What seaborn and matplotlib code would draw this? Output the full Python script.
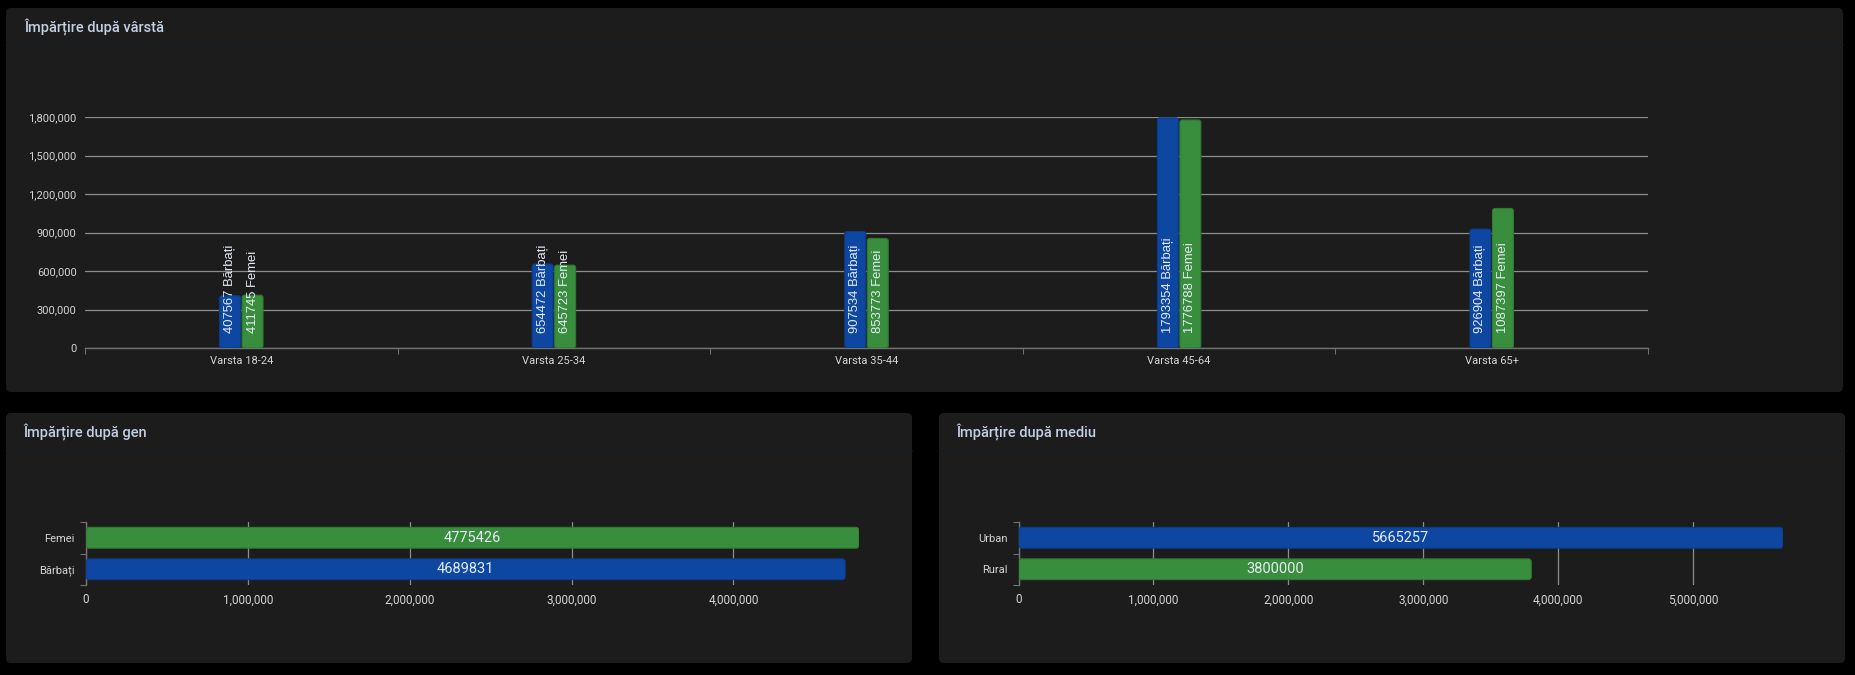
import matplotlib
matplotlib.use("Agg")
import matplotlib.pyplot as plt
from matplotlib.patches import FancyBboxPatch
from matplotlib.ticker import FuncFormatter, FixedLocator
import seaborn as sns
import pandas as pd

# ---------------- data ----------------
age_groups = ["Varsta 18-24", "Varsta 25-34", "Varsta 35-44", "Varsta 45-64", "Varsta 65+"]
men_values = [407567, 654472, 907534, 1793354, 926904]
women_values = [411745, 645723, 853773, 1776788, 1087397]
sex_names = ["Bărbați", "Femei"]

gender_labels = ["Femei", "Bărbați"]
gender_values = [4775426, 4689831]

area_labels = ["Urban", "Rural"]
area_values = [5665257, 3800000]

titles = ["Împărțire după vârstă", "Împărțire după gen", "Împărțire după mediu"]
age_yticks = [0, 300000, 600000, 900000, 1200000, 1500000, 1800000]

# ---------------- style ----------------
BLUE = "#0d47a1"
GREEN = "#388e3c"
CARD = "#1c1c1c"
BG = "#000000"
GRID = "#8c8c8c"
TICK_TXT = "#d4d4d4"
LABEL_TXT = "#e6ebf5"
TITLE_TXT = "#c3cfe2"
LABEL_FONT = ["Liberation Sans", "DejaVu Sans"]

sns.set_theme(style="dark")
plt.rcParams["font.family"] = ["Roboto", "DejaVu Sans"]

W, H = 1855, 675
fig = plt.figure(figsize=(W / 100, H / 100), dpi=100, facecolor=BG)


def card(x0, y0, x1, y1):
    p = FancyBboxPatch((x0 / 100, (H - y1) / 100), (x1 - x0) / 100, (y1 - y0) / 100,
                       boxstyle="round,pad=0,rounding_size=0.05",
                       transform=fig.dpi_scale_trans, fc=CARD, ec="none", zorder=-2)
    fig.patches.append(p)
    return p


def sep_line(x0, x1, y):
    fig.add_artist(plt.Line2D([x0 / W, x1 / W], [1 - y / H, 1 - y / H],
                              color="#171d22", lw=1.2, zorder=-1))


def add_axes(x0, y0, x1, y1):
    ax = fig.add_axes([x0 / W, 1 - y1 / H, (x1 - x0) / W, (y1 - y0) / H])
    ax.set_facecolor("none")
    return ax


def round_bars(ax, ax_px, r_px=3.0):
    x0, y0, x1, y1 = ax_px
    xl = ax.get_xlim()
    yl = ax.get_ylim()
    ux = abs(xl[1] - xl[0]) / (x1 - x0)
    uy = abs(yl[1] - yl[0]) / (y1 - y0)
    rx = r_px * ux
    ry = r_px * uy
    for cont in ax.containers:
        for p in cont:
            x, y, w, h = p.get_x(), p.get_y(), p.get_width(), p.get_height()
            if h < 0:
                y, h = y + h, -h
            if w < 0:
                x, w = x + w, -w
            fc = p.get_facecolor()
            ec = tuple(max(0, c * 0.85) for c in fc[:3]) + (1,)
            nb = FancyBboxPatch((x, y), w, h,
                                boxstyle=f"round,pad=0,rounding_size={rx}",
                                mutation_aspect=ry / rx,
                                fc=fc, ec=ec, lw=0.8,
                                transform=ax.transData, zorder=3)
            p.set_visible(False)
            ax.add_patch(nb)


# ---------------- cards ----------------
card(6, 8, 1843, 392)
card(6, 413, 912, 663)
card(939, 413, 1845, 663)
sep_line(6, 1843, 45)
sep_line(6, 912, 451)
sep_line(939, 1845, 451)

for (tx, ty), t in zip([(24, 27), (23, 432), (956, 432)], titles):
    fig.text(tx / W, 1 - ty / H, t, color=TITLE_TXT, fontsize=10.5,
             fontweight="medium", ha="left", va="center")

comma = FuncFormatter(lambda v, p: f"{int(v):,}")

# ---------------- top: age ----------------
age_df = pd.DataFrame({
    "grup": age_groups * 2,
    "sex": [sex_names[0]] * len(age_groups) + [sex_names[1]] * len(age_groups),
    "val": men_values + women_values,
})
top_px = (85, 117, 1648, 348)
ax1 = add_axes(*top_px)
sns.barplot(data=age_df, x="grup", y="val", hue="sex", hue_order=sex_names,
            order=age_groups, palette=[BLUE, GREEN], width=0.144, gap=0.07,
            errorbar=None, legend=False, ax=ax1, saturation=1)
ax1.set_xlim(-0.5, len(age_groups) - 0.5)
ax1.set_ylim(0, age_yticks[-1])
ax1.set_xlabel("")
ax1.set_ylabel("")
ax1.yaxis.set_major_locator(FixedLocator(age_yticks))
ax1.yaxis.set_major_formatter(comma)
ax1.grid(axis="y", color=GRID, lw=0.9)
ax1.grid(axis="x", visible=False)
ax1.set_axisbelow(True)
for s in ["top", "right", "left"]:
    ax1.spines[s].set_visible(False)
ax1.spines["bottom"].set_color("#707070")
ax1.spines["bottom"].set_linewidth(1.0)
ax1.tick_params(axis="y", length=0, pad=6, labelsize=8, labelcolor=TICK_TXT)
ax1.tick_params(axis="x", which="major", length=0, pad=6, labelsize=8, labelcolor=TICK_TXT)
ax1.set_xticks([i - 0.5 for i in range(len(age_groups) + 1)], minor=True)
ax1.tick_params(axis="x", which="minor", length=4, color="#707070", width=0.8, bottom=True)
round_bars(ax1, top_px, r_px=2.5)
for cont, name in zip(ax1.containers, sex_names):
    for p in cont:
        cx = p.get_x() + p.get_width() / 2
        ax1.annotate(f"{int(p.get_height())} {name}", xy=(cx, 0), xytext=(0, 11),
                     textcoords="offset points", rotation=90, ha="center", va="bottom",
                     color=LABEL_TXT, fontsize=9.4, family=LABEL_FONT, zorder=5)


# ---------------- bottom horizontal charts ----------------
def hbar(px, labels, values, colors):
    ax = add_axes(*px)
    df = pd.DataFrame({"cat": labels, "val": values})
    sns.barplot(data=df, y="cat", x="val", hue="cat", order=labels, hue_order=labels,
                palette=colors, width=0.66, errorbar=None, legend=False, ax=ax,
                saturation=1, orient="h")
    ax.set_ylim(len(labels) - 0.5, -0.5)
    ax.set_xlim(0, max(values))
    ax.set_xlabel("")
    ax.set_ylabel("")
    ax.xaxis.set_major_formatter(comma)
    ax.grid(axis="x", color=GRID, lw=0.9)
    ax.grid(axis="y", visible=False)
    ax.set_axisbelow(True)
    for s in ["top", "right", "bottom"]:
        ax.spines[s].set_visible(False)
    ax.spines["left"].set_color("#707070")
    ax.spines["left"].set_linewidth(1.0)
    ax.tick_params(axis="x", length=0, pad=6, labelsize=8.5, labelcolor=TICK_TXT)
    ax.tick_params(axis="y", which="major", length=0, pad=8, labelsize=8, labelcolor=TICK_TXT)
    ax.set_yticks([i - 0.5 for i in range(len(labels) + 1)], minor=True)
    ax.tick_params(axis="y", which="minor", length=4, color="#707070", width=0.8, left=True)
    round_bars(ax, px, r_px=3)
    for cont in ax.containers:
        for p in cont:
            w = p.get_width()
            if w <= 0:
                continue
            ax.text(p.get_x() + w / 2, p.get_y() + p.get_height() / 2, f"{int(w)}",
                    ha="center", va="center", color=LABEL_TXT, fontsize=10.5, zorder=5)
    return ax


hbar((86, 522, 859, 585), gender_labels, gender_values, [GREEN, BLUE])
hbar((1018.5, 522, 1783, 585), area_labels, area_values, [BLUE, GREEN])

fig.savefig("out.png", dpi=100, facecolor=BG)
